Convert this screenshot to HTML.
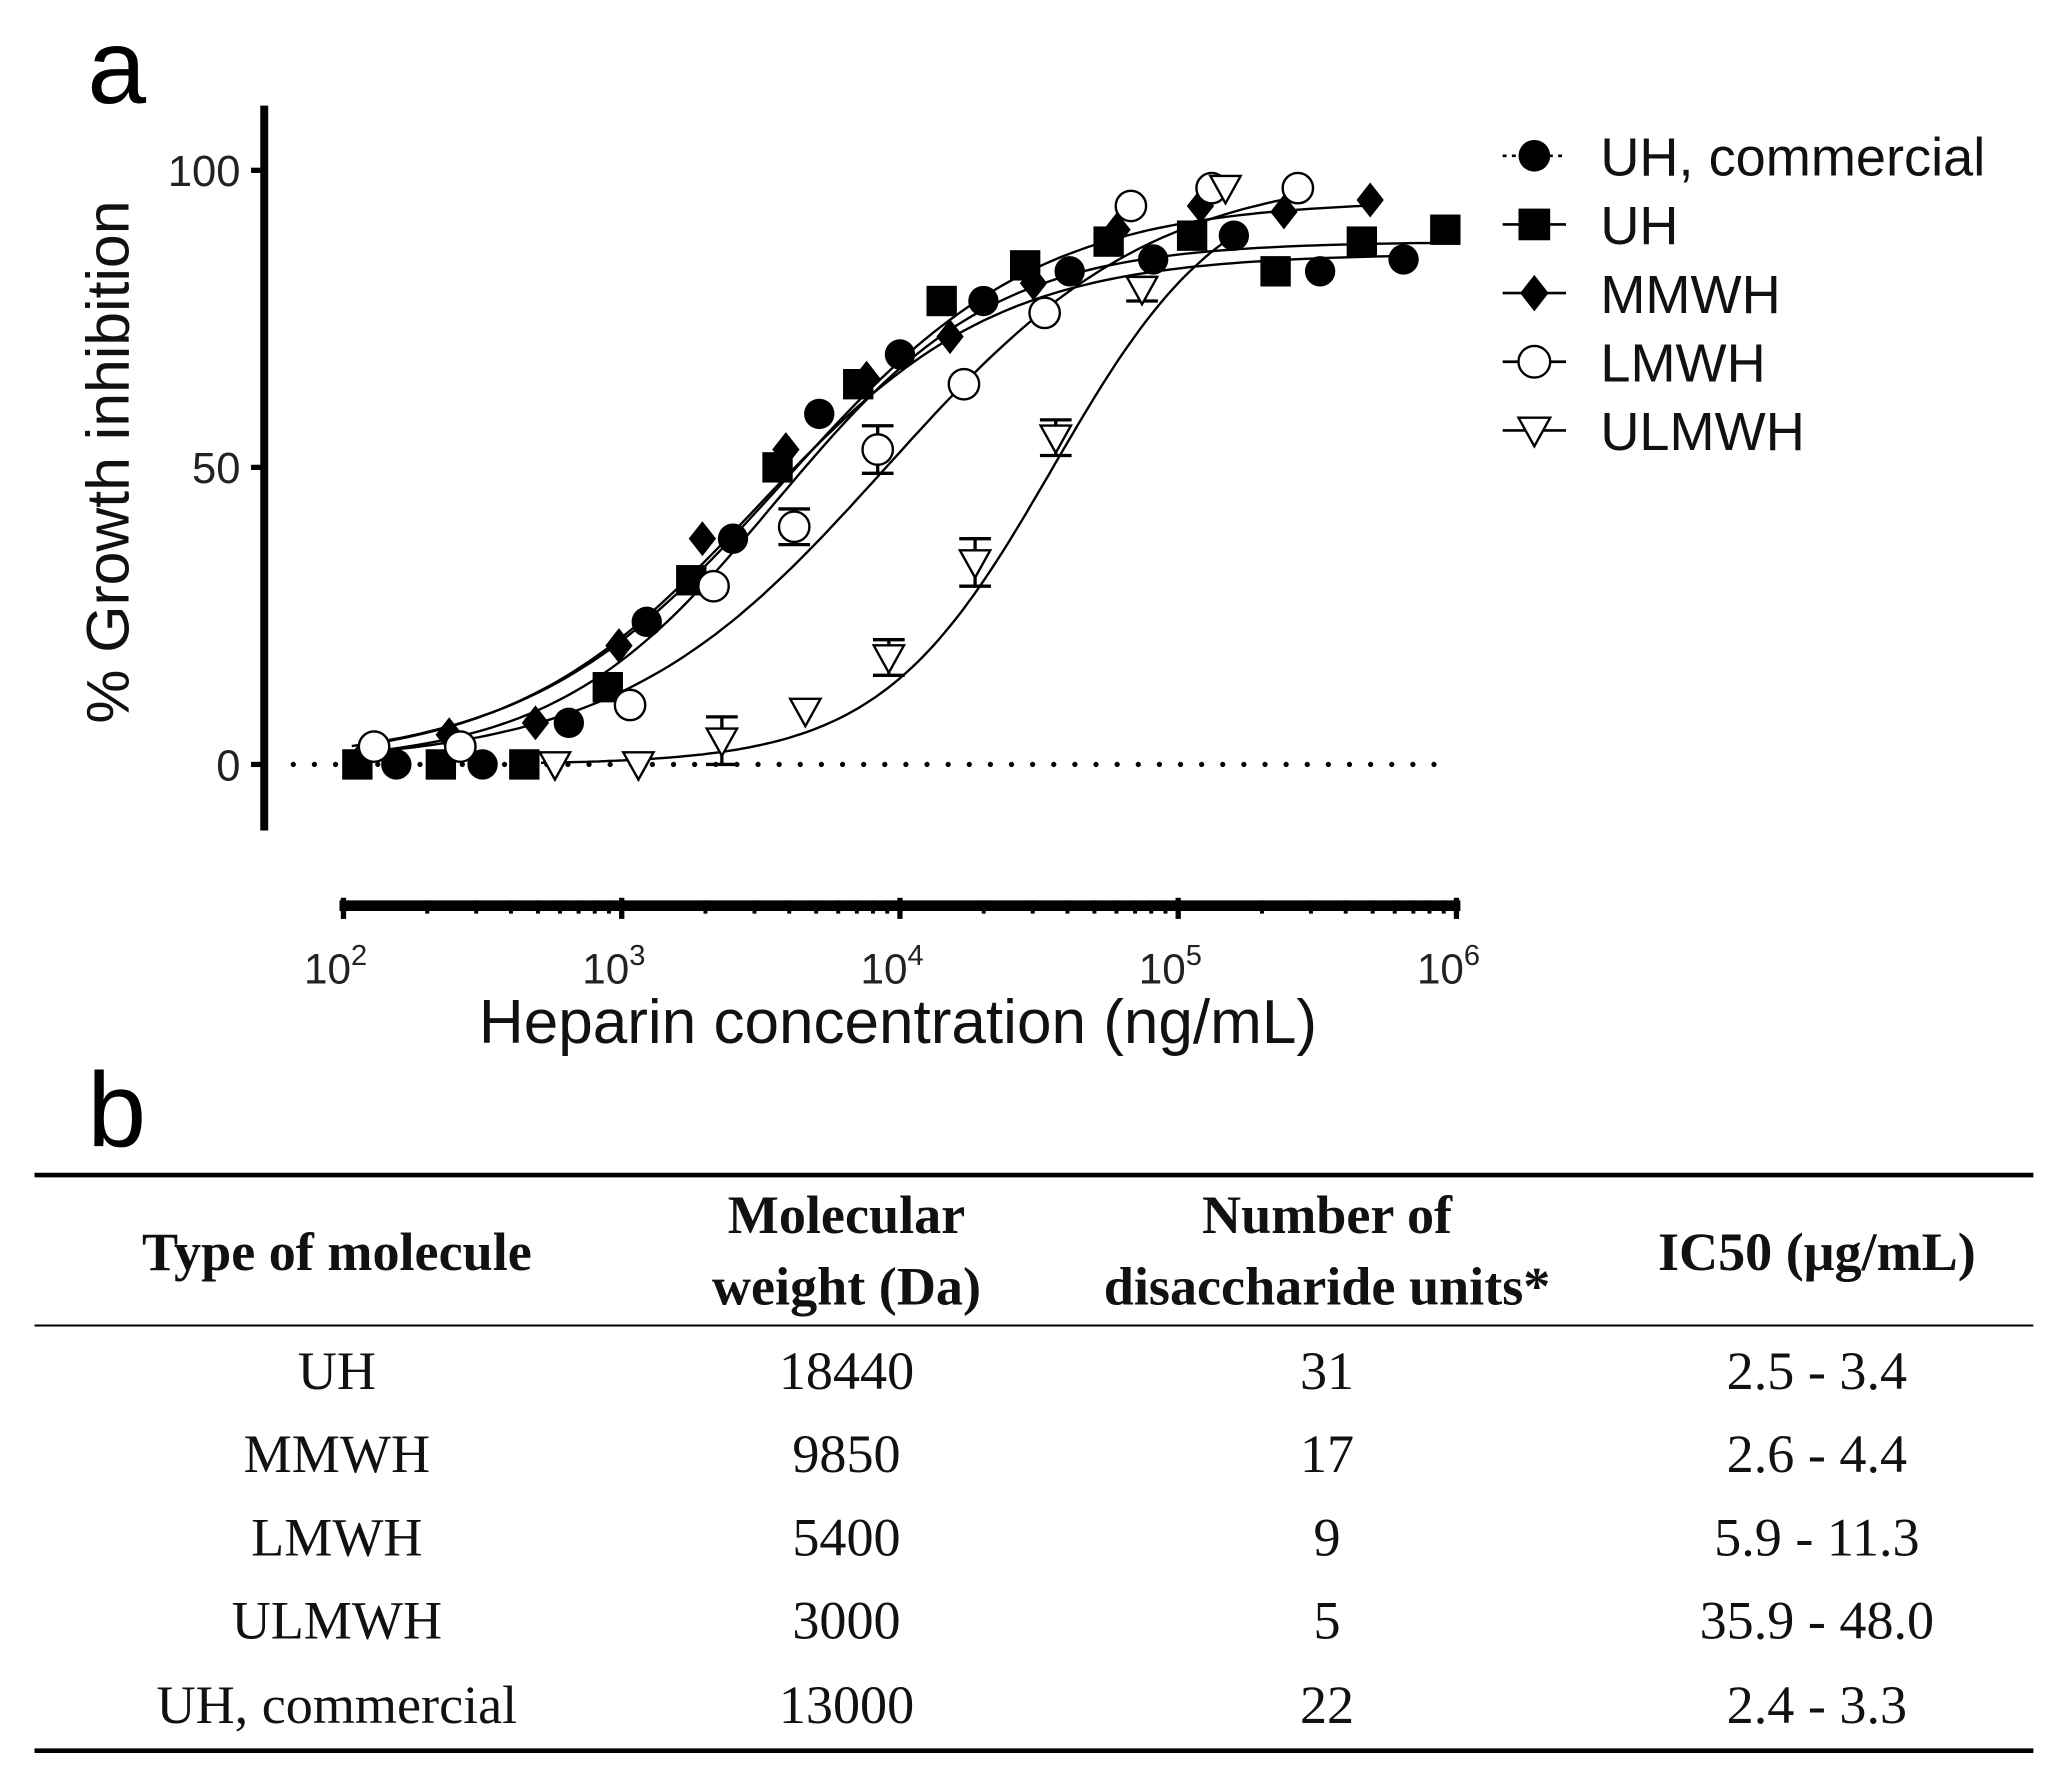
<!DOCTYPE html>
<html><head><meta charset="utf-8"><style>
html,body{margin:0;padding:0;background:#fff}
svg{display:block}
</style></head><body>
<svg id="fig" width="2060" height="1785" viewBox="0 0 1560 1352" xmlns="http://www.w3.org/2000/svg">
<text x="66" y="78" font-family="Liberation Sans, sans-serif" font-size="80">a</text>
<g id="chart"></g>
<text x="66" y="868" font-family="Liberation Sans, sans-serif" font-size="80">b</text>
<g font-family="Liberation Serif, serif" font-size="41" text-anchor="middle" fill="#111">
<line x1="26" y1="890" x2="1540" y2="890" stroke="#000" stroke-width="3.5"/>
<line x1="26" y1="1004" x2="1540" y2="1004" stroke="#000" stroke-width="1.5"/>
<line x1="26" y1="1326" x2="1540" y2="1326" stroke="#000" stroke-width="3.5"/>
<g font-weight="bold">
<text x="255" y="962">Type of molecule</text>
<text x="641" y="934">Molecular</text><text x="641" y="988">weight (Da)</text>
<text x="1005" y="934">Number of</text><text x="1005" y="988">disaccharide units*</text>
<text x="1376" y="962">IC50 (μg/mL)</text>
</g>
<g>
<text x="255" y="1052">UH</text><text x="641" y="1052">18440</text><text x="1005" y="1052">31</text><text x="1376" y="1052">2.5 - 3.4</text>
<text x="255" y="1115">MMWH</text><text x="641" y="1115">9850</text><text x="1005" y="1115">17</text><text x="1376" y="1115">2.6 - 4.4</text>
<text x="255" y="1178">LMWH</text><text x="641" y="1178">5400</text><text x="1005" y="1178">9</text><text x="1376" y="1178">5.9 - 11.3</text>
<text x="255" y="1241">ULMWH</text><text x="641" y="1241">3000</text><text x="1005" y="1241">5</text><text x="1376" y="1241">35.9 - 48.0</text>
<text x="255" y="1305">UH, commercial</text><text x="641" y="1305">13000</text><text x="1005" y="1305">22</text><text x="1376" y="1305">2.4 - 3.3</text>
</g>
</g>
</svg>
<script>
// data (log10 concentration, % inhibition)
const seriesNames = ["UH, commercial","UH","MMWH","LMWH","ULMWH"];
const shapes = ["circle","square","diamond","ocircle","triangle"];
const xUHc = [2.19,2.50,2.81,3.09,3.40,3.71,4.00,4.30,4.61,4.91,5.20,5.51,5.81];
const yUHc = [0,0,7,24,38,59,69,78,83,85,89,83,85];
const xUH = [2.05,2.35,2.65,2.95,3.25,3.56,3.85,4.15,4.45,4.75,5.05,5.35,5.66,5.96];
const yUH = [0,0,0,13,31,50,64,78,84,88,89,83,88,90];
const xMM = [2.08,2.38,2.69,2.99,3.29,3.59,3.88,4.18,4.48,4.78,5.08,5.38,5.69];
const yMM = [2,5,7,20,38,53,65,72,81,90,94,93,95];
const xLM = [2.11,2.42,3.03,3.33,3.62,3.92,4.23,4.52,4.83,5.12,5.43];
const yLM = [3,3,10,30,40,53,64,76,94,97,97];
const xUL = [2.76,3.06,3.36,3.66,3.96,4.27,4.56,4.87,5.17];
const yUL = [0,0,4,9,18,34,55,80,97];
const errUL = [0,0,4,0,3,4,3,2,0];
const errLM = [0,0,0,0,3,4,0,0,0,0,0];
// fitted 4PL parameters: top, logEC50, hill
const fitTop = [86,88,95,100,100];
const fitLogEC50 = [3.48,3.55,3.58,3.95,4.55];
const fitHill = [1.0,1.1,0.95,0.9,1.4];
const yTicks = [0,50,100];
const xDecades = [2,3,4,5,6];

const NS="http://www.w3.org/2000/svg";
const g=document.getElementById('chart');
const X0=260, XD=210.75, Y0=579, YS=4.5;
const sx=l=>X0+(l-2)*XD, sy=v=>Y0-v*YS;
function mk(tag,attrs,parent){const e=document.createElementNS(NS,tag);for(const k in attrs)e.setAttribute(k,attrs[k]);(parent||g).appendChild(e);return e;}

// y axis
let ya=mk('line',{x1:200,y1:80,x2:200,y2:629,stroke:'#000','stroke-width':6});


yTicks.forEach(t=>{
  mk('line',{x1:190,y1:sy(t),x2:200,y2:sy(t),stroke:'#000','stroke-width':4});
  const tx=mk('text',{x:182,y:sy(t)+12,'text-anchor':'end','font-family':'Liberation Sans, sans-serif','font-size':33,fill:'#222'});
  tx.textContent=t;
  
  
});
const yt=mk('text',{x:0,y:0,transform:'translate(97,350) rotate(-90)','text-anchor':'middle','font-family':'Liberation Sans, sans-serif','font-size':46,fill:'#111'});
yt.textContent='% Growth inhibition';



// x axis
let xa=mk('line',{x1:257,y1:686,x2:1106,y2:686,stroke:'#000','stroke-width':8});


xDecades.forEach((d,i)=>{
  mk('line',{x1:sx(d),y1:680,x2:sx(d),y2:696,stroke:'#000','stroke-width':4});
  if(i<xDecades.length-1){for(let m=2;m<10;m++){const px=sx(d+Math.log10(m));mk('line',{x1:px,y1:682,x2:px,y2:692,stroke:'#000','stroke-width':3});}}
  const tx=mk('text',{x:sx(d)-6,y:745,'text-anchor':'middle','font-family':'Liberation Sans, sans-serif','font-size':32,fill:'#222'});
  tx.textContent='10';
  const sup=mk('tspan',{dy:-14,'font-size':22},tx); sup.textContent=d;
  
  
});
const xt=mk('text',{x:680,y:790,'text-anchor':'middle','font-family':'Liberation Sans, sans-serif','font-size':47,fill:'#111'});
xt.textContent='Heparin concentration (ng/mL)';



// zero dotted line
const zl=mk('line',{x1:222,y1:Y0,x2:1100,y2:Y0,stroke:'#000','stroke-width':4,'stroke-dasharray':'0 16','stroke-linecap':'round'});



function marker(shape,cx,cy,r,parent){
  if(shape==='circle') return mk('circle',{cx,cy,r,fill:'#000'},parent);
  if(shape==='ocircle') return mk('circle',{cx,cy,r:r,fill:'#fff',stroke:'#000','stroke-width':1.8},parent);
  if(shape==='square') return mk('rect',{x:cx-r,y:cy-r,width:2*r,height:2*r,fill:'#000'},parent);
  if(shape==='diamond') return mk('polygon',{points:`${cx},${cy-r*1.15} ${cx+r*0.9},${cy} ${cx},${cy+r*1.15} ${cx-r*0.9},${cy}`,fill:'#000'},parent);
  return mk('polygon',{points:`${cx-r},${cy-r*0.8} ${cx+r},${cy-r*0.8} ${cx},${cy+r*1}`,fill:'#fff',stroke:'#000','stroke-width':1.8},parent);
}
const xs=[xUHc,xUH,xMM,xLM,xUL], ys=[yUHc,yUH,yMM,yLM,yUL];
const errs=[null,null,null,errLM,errUL];
// curves
xs.forEach((xa_,i)=>{
  let d='';
  const a=xa_[0]-0.05,b=xa_[xa_.length-1]+0.03;
  for(let k=0;k<=120;k++){const l=a+(b-a)*k/120;const v=fitTop[i]/(1+Math.pow(10,fitHill[i]*(fitLogEC50[i]-l)));d+=(k?'L':'M')+sx(l).toFixed(1)+','+sy(v).toFixed(1);}
  const c=mk('path',{d,fill:'none',stroke:'#000','stroke-width':1.8});
  
  
});
// points
xs.forEach((xa_,i)=>{
  const grp=mk('g',{});
  
  
  xa_.forEach((l,j)=>{
    const e=errs[i]?errs[i][j]:0;
    if(e>0){const px=sx(l);mk('path',{d:`M${px},${sy(ys[i][j]+e)}V${sy(ys[i][j]-e)}M${px-12},${sy(ys[i][j]+e)}H${px+12}M${px-12},${sy(ys[i][j]-e)}H${px+12}`,stroke:'#000','stroke-width':2.5,fill:'none'},grp);}
    const m=marker(shapes[i],sx(l),sy(ys[i][j]),11.5,grp);
    
    
  });
});
// legend
seriesNames.forEach((n,i)=>{
  const y=118+i*52;
  const lg=mk('g',{});
  
  
  mk('line',{x1:1138,y1:y,x2:1186,y2:y,stroke:'#000','stroke-width':2,'stroke-dasharray':i===0?'3 4':''},lg);
  marker(shapes[i],1162,y,12,lg);
  const t=mk('text',{x:1212,y:y+15,'font-family':'Liberation Sans, sans-serif','font-size':41,fill:'#111'},lg);
  t.textContent=n;
});
</script>
</body></html>
